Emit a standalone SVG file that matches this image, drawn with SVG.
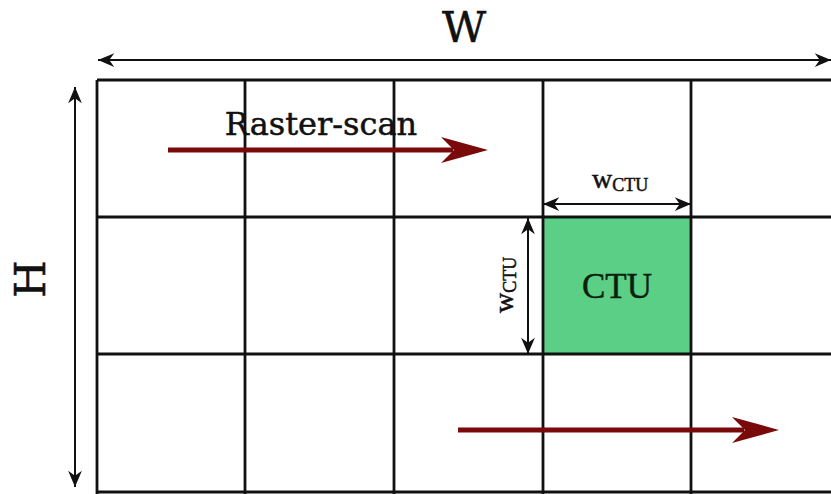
<svg xmlns="http://www.w3.org/2000/svg" width="831" height="494" viewBox="0 0 831 494">
<style>
.grid{stroke:#111;stroke-width:2.8;fill:none}
.dim{stroke:#111;stroke-width:2;fill:none;marker-start:url(#ah);marker-end:url(#ah)}
.scan{stroke:#7a0a0a;stroke-width:5;fill:none;marker-end:url(#rh)}
.serif{font-family:"DejaVu Serif",serif;fill:#111;stroke:#111;stroke-width:0.5}
.times{font-family:"Liberation Serif","Times New Roman",serif;fill:#111;stroke:#111;stroke-width:0.5}
</style>
<defs>
<marker id="ah" markerUnits="userSpaceOnUse" markerWidth="20" markerHeight="20" viewBox="-14 -7 16 14" refX="0" refY="0" orient="auto-start-reverse">
<path d="M0,0 L-13,-5.5 L-9,0 L-13,5.5 Z" fill="#111"/>
</marker>
<marker id="rh" markerUnits="userSpaceOnUse" markerWidth="60" markerHeight="30" viewBox="-50 -15 52 30" refX="-35" refY="0" orient="auto">
<path d="M0,0 L-47,-13 L-34,0 L-47,13 Z" fill="#7a0a0a"/>
</marker>
</defs>
<g id="ctu">
<rect x="543" y="217" width="148" height="137" fill="#5ccf87"/>
<text class="times" x="617" y="298" font-size="35" text-anchor="middle" style="fill:#0d1f0d;stroke:#0d1f0d">CTU</text>
</g>
<g id="grid">
<line class="grid" x1="97" y1="80" x2="831" y2="80"/>
<line class="grid" x1="97" y1="217" x2="831" y2="217"/>
<line class="grid" x1="97" y1="354" x2="831" y2="354"/>
<line class="grid" x1="97" y1="492" x2="831" y2="492"/>
<line class="grid" x1="97" y1="80" x2="97" y2="494"/>
<line class="grid" x1="245" y1="80" x2="245" y2="494"/>
<line class="grid" x1="394" y1="80" x2="394" y2="494"/>
<line class="grid" x1="543" y1="80" x2="543" y2="494"/>
<line class="grid" x1="691" y1="80" x2="691" y2="494"/>
</g>
<g id="labels">
<text class="serif" x="464" y="42" font-size="43" text-anchor="middle">W</text>
<text class="serif" x="0" y="0" font-size="43" text-anchor="middle" transform="translate(45,279) rotate(-90)">H</text>
<text class="serif" x="321" y="135" font-size="32" text-anchor="middle">Raster-scan</text>
<text class="times" x="592" y="188" font-size="28">w<tspan font-size="18" dy="3">CTU</tspan></text>
<text class="times" x="0" y="0" font-size="28" transform="translate(513,313) rotate(-90)">w<tspan font-size="18" dy="3">CTU</tspan></text>
</g>
<g id="connectors">
<line class="dim" x1="98" y1="60" x2="831" y2="60"/>
<line class="dim" x1="75" y1="87" x2="75" y2="487"/>
<line class="dim" x1="543" y1="204" x2="691" y2="204"/>
<line class="dim" x1="528" y1="218" x2="528" y2="354"/>
<line class="scan" x1="168" y1="150" x2="453" y2="150"/>
<line class="scan" x1="458" y1="430" x2="744" y2="430"/>
</g>
</svg>
